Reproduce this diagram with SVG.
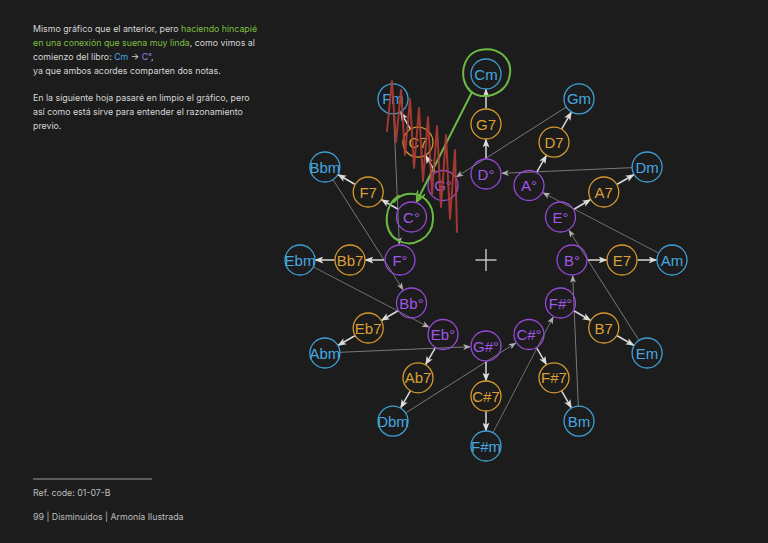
<svg xmlns="http://www.w3.org/2000/svg" width="768" height="543" viewBox="0 0 768 543">
<style>
.txt{font-family:Inter,"Liberation Sans",sans-serif;font-size:8.8px;fill:#d6d6d6}
.gr{fill:#7dbf3f}
.node circle{fill:none;stroke-width:1.3}
.node text{font-family:"Liberation Sans",Arial,sans-serif;font-size:15px;text-anchor:middle;dominant-baseline:central}
.m circle{stroke:#3f9fd6}.m text{fill:#45a8e0}
.s circle{stroke:#d69a2e}.s text{fill:#dba034}
.d circle{stroke:#9549d6}.d text{fill:#a256e4}
.spoke{stroke:#d9d9d9;stroke-width:1.5;marker-end:url(#ah)}
.link{stroke:#7e7e7e;stroke-width:0.85;marker-end:url(#ah2)}
</style>
<defs>
<marker id="ah" viewBox="0 0 10 8" refX="9" refY="4" markerWidth="9" markerHeight="7" markerUnits="userSpaceOnUse" orient="auto"><path d="M0,0 L10,4 L0,8 L2.5,4 Z" fill="#dcdcdc"/></marker>
<marker id="ah2" viewBox="0 0 10 8" refX="9" refY="4" markerWidth="8" markerHeight="6" markerUnits="userSpaceOnUse" orient="auto"><path d="M0,0 L10,4 L0,8 L2.5,4 Z" fill="#b0b0b0"/></marker>
<marker id="ahg" viewBox="0 0 10 8" refX="9" refY="4" markerWidth="11" markerHeight="9" markerUnits="userSpaceOnUse" orient="auto"><path d="M0,0 L10,4 L0,8" fill="none" stroke="#6cb844" stroke-width="1.6"/></marker>
</defs>
<rect width="768" height="543" fill="#1c1c1c"/>

<g id="notes">
<text class="txt" x="33" y="32">Mismo gráfico que el anterior, pero <tspan class="gr">haciendo hincapié</tspan></text>
<text class="txt" x="33" y="46"><tspan class="gr">en una conexión que suena muy linda</tspan>, como vimos al</text>
<text class="txt" x="33" y="60">comienzo del libro: <tspan fill="#4aa8e0">Cm</tspan> → <tspan fill="#9a82e0">C°</tspan>,</text>
<text class="txt" x="33" y="74">ya que ambos acordes comparten dos notas.</text>
<text class="txt" x="33" y="101">En la siguiente hoja pasaré en limpio el gráfico, pero</text>
<text class="txt" x="33" y="115">así como está sirve para entender el razonamiento</text>
<text class="txt" x="33" y="129">previo.</text>
<line x1="33" y1="479" x2="152" y2="479" stroke="#9a9a9a" stroke-width="1"/>
<text class="txt" x="33" y="496" style="fill:#bdbdbd">Ref. code: 01-07-B</text>
<text class="txt" x="33" y="520" style="fill:#bdbdbd">99 | Disminuidos | Armonía Ilustrada</text>
</g>

<g id="center-cross" stroke="#d8d8d8" stroke-width="1.3">
<line x1="475.5" y1="260" x2="496.5" y2="260"/>
<line x1="486" y1="249" x2="486" y2="271"/>
</g>

<g id="connectors">
<line class="link" x1="479.1" y1="87.3" x2="418.9" y2="202.8" transform="rotate(30 486 260)"/>
<line class="link" x1="479.1" y1="87.3" x2="418.9" y2="202.8" transform="rotate(60 486 260)"/>
<line class="link" x1="479.1" y1="87.3" x2="418.9" y2="202.8" transform="rotate(90 486 260)"/>
<line class="link" x1="479.1" y1="87.3" x2="418.9" y2="202.8" transform="rotate(120 486 260)"/>
<line class="link" x1="479.1" y1="87.3" x2="418.9" y2="202.8" transform="rotate(150 486 260)"/>
<line class="link" x1="479.1" y1="87.3" x2="418.9" y2="202.8" transform="rotate(180 486 260)"/>
<line class="link" x1="479.1" y1="87.3" x2="418.9" y2="202.8" transform="rotate(210 486 260)"/>
<line class="link" x1="479.1" y1="87.3" x2="418.9" y2="202.8" transform="rotate(240 486 260)"/>
<line class="link" x1="479.1" y1="87.3" x2="418.9" y2="202.8" transform="rotate(270 486 260)"/>
<line class="link" x1="479.1" y1="87.3" x2="418.9" y2="202.8" transform="rotate(300 486 260)"/>
<line class="link" x1="479.1" y1="87.3" x2="418.9" y2="202.8" transform="rotate(330 486 260)"/>

<line class="spoke" x1="486" y1="158" x2="486" y2="139.5"/>
<line class="spoke" x1="486" y1="108.5" x2="486" y2="89.5"/>
<line class="spoke" x1="486" y1="158" x2="486" y2="139.5" transform="rotate(30 486 260)"/>
<line class="spoke" x1="486" y1="108.5" x2="486" y2="89.5" transform="rotate(30 486 260)"/>
<line class="spoke" x1="486" y1="158" x2="486" y2="139.5" transform="rotate(60 486 260)"/>
<line class="spoke" x1="486" y1="108.5" x2="486" y2="89.5" transform="rotate(60 486 260)"/>
<line class="spoke" x1="486" y1="158" x2="486" y2="139.5" transform="rotate(90 486 260)"/>
<line class="spoke" x1="486" y1="108.5" x2="486" y2="89.5" transform="rotate(90 486 260)"/>
<line class="spoke" x1="486" y1="158" x2="486" y2="139.5" transform="rotate(120 486 260)"/>
<line class="spoke" x1="486" y1="108.5" x2="486" y2="89.5" transform="rotate(120 486 260)"/>
<line class="spoke" x1="486" y1="158" x2="486" y2="139.5" transform="rotate(150 486 260)"/>
<line class="spoke" x1="486" y1="108.5" x2="486" y2="89.5" transform="rotate(150 486 260)"/>
<line class="spoke" x1="486" y1="158" x2="486" y2="139.5" transform="rotate(180 486 260)"/>
<line class="spoke" x1="486" y1="108.5" x2="486" y2="89.5" transform="rotate(180 486 260)"/>
<line class="spoke" x1="486" y1="158" x2="486" y2="139.5" transform="rotate(210 486 260)"/>
<line class="spoke" x1="486" y1="108.5" x2="486" y2="89.5" transform="rotate(210 486 260)"/>
<line class="spoke" x1="486" y1="158" x2="486" y2="139.5" transform="rotate(240 486 260)"/>
<line class="spoke" x1="486" y1="108.5" x2="486" y2="89.5" transform="rotate(240 486 260)"/>
<line class="spoke" x1="486" y1="158" x2="486" y2="139.5" transform="rotate(270 486 260)"/>
<line class="spoke" x1="486" y1="108.5" x2="486" y2="89.5" transform="rotate(270 486 260)"/>
<line class="spoke" x1="486" y1="158" x2="486" y2="139.5" transform="rotate(300 486 260)"/>
<line class="spoke" x1="486" y1="108.5" x2="486" y2="89.5" transform="rotate(300 486 260)"/>
<line class="spoke" x1="486" y1="158" x2="486" y2="139.5" transform="rotate(330 486 260)"/>
<line class="spoke" x1="486" y1="108.5" x2="486" y2="89.5" transform="rotate(330 486 260)"/>
</g>

<g id="minors">
<g id="n-Cm" class="node m"><circle cx="486" cy="74" r="15"/><text x="486" y="74">Cm</text></g>
<g id="n-Gm" class="node m"><circle cx="579" cy="98.9" r="15"/><text x="579" y="98.9">Gm</text></g>
<g id="n-Dm" class="node m"><circle cx="647.1" cy="167" r="15"/><text x="647.1" y="167">Dm</text></g>
<g id="n-Am" class="node m"><circle cx="672" cy="260" r="15"/><text x="672" y="260">Am</text></g>
<g id="n-Em" class="node m"><circle cx="647.1" cy="353" r="15"/><text x="647.1" y="353">Em</text></g>
<g id="n-Bm" class="node m"><circle cx="579" cy="421.1" r="15"/><text x="579" y="421.1">Bm</text></g>
<g id="n-Fsm" class="node m"><circle cx="486" cy="446" r="15"/><text x="486" y="446">F#m</text></g>
<g id="n-Dbm" class="node m"><circle cx="393" cy="421.1" r="15"/><text x="393" y="421.1">Dbm</text></g>
<g id="n-Abm" class="node m"><circle cx="324.9" cy="353" r="15"/><text x="324.9" y="353">Abm</text></g>
<g id="n-Ebm" class="node m"><circle cx="300" cy="260" r="15"/><text x="300" y="260">Ebm</text></g>
<g id="n-Bbm" class="node m"><circle cx="324.9" cy="167" r="15"/><text x="324.9" y="167">Bbm</text></g>
<g id="n-Fm" class="node m"><circle cx="393" cy="98.9" r="15"/><text x="393" y="98.9">Fm</text></g>
</g>

<g id="sevenths">
<g id="n-G7" class="node s"><circle cx="486" cy="124" r="15"/><text x="486" y="124">G7</text></g>
<g id="n-D7" class="node s"><circle cx="554" cy="142.2" r="15"/><text x="554" y="142.2">D7</text></g>
<g id="n-A7" class="node s"><circle cx="603.8" cy="192" r="15"/><text x="603.8" y="192">A7</text></g>
<g id="n-E7" class="node s"><circle cx="622" cy="260" r="15"/><text x="622" y="260">E7</text></g>
<g id="n-B7" class="node s"><circle cx="603.8" cy="328" r="15"/><text x="603.8" y="328">B7</text></g>
<g id="n-Fs7" class="node s"><circle cx="554" cy="377.8" r="15"/><text x="554" y="377.8">F#7</text></g>
<g id="n-Cs7" class="node s"><circle cx="486" cy="396" r="15"/><text x="486" y="396">C#7</text></g>
<g id="n-Ab7" class="node s"><circle cx="418" cy="377.8" r="15"/><text x="418" y="377.8">Ab7</text></g>
<g id="n-Eb7" class="node s"><circle cx="368.2" cy="328" r="15"/><text x="368.2" y="328">Eb7</text></g>
<g id="n-Bb7" class="node s"><circle cx="350" cy="260" r="15"/><text x="350" y="260">Bb7</text></g>
<g id="n-F7" class="node s"><circle cx="368.2" cy="192" r="15"/><text x="368.2" y="192">F7</text></g>
<g id="n-C7" class="node s"><circle cx="418" cy="142.2" r="15"/><text x="418" y="142.2">C7</text></g>
</g>

<g id="diminished">
<g id="n-Ddim" class="node d"><circle cx="486" cy="174" r="15"/><text x="486" y="174">D°</text></g>
<g id="n-Adim" class="node d"><circle cx="529" cy="185.5" r="15"/><text x="529" y="185.5">A°</text></g>
<g id="n-Edim" class="node d"><circle cx="560.5" cy="217" r="15"/><text x="560.5" y="217">E°</text></g>
<g id="n-Bdim" class="node d"><circle cx="572" cy="260" r="15"/><text x="572" y="260">B°</text></g>
<g id="n-Fsdim" class="node d"><circle cx="560.5" cy="303" r="15"/><text x="560.5" y="303">F#°</text></g>
<g id="n-Csdim" class="node d"><circle cx="529" cy="334.5" r="15"/><text x="529" y="334.5">C#°</text></g>
<g id="n-Gsdim" class="node d"><circle cx="486" cy="346" r="15"/><text x="486" y="346">G#°</text></g>
<g id="n-Ebdim" class="node d"><circle cx="443" cy="334.5" r="15"/><text x="443" y="334.5">Eb°</text></g>
<g id="n-Bbdim" class="node d"><circle cx="411.5" cy="303" r="15"/><text x="411.5" y="303">Bb°</text></g>
<g id="n-Fdim" class="node d"><circle cx="400" cy="260" r="15"/><text x="400" y="260">F°</text></g>
<g id="n-Cdim" class="node d"><circle cx="411.5" cy="217" r="15"/><text x="411.5" y="217">C°</text></g>
<g id="n-Gdim" class="node d"><circle cx="443" cy="185.5" r="15"/><text x="443" y="185.5">G°</text></g>
</g>

<g id="annotations" fill="none" stroke-linecap="round" stroke-linejoin="round">
<path d="M470,91 C458,79 462,54 480,50 C498,46 512,58 510,74 C508,90 494,97 481,96 C475,95 471,93 468,88" stroke="#6cb844" stroke-width="2"/>
<path d="M399,196 C384,204 382,230 397,240 C413,249 432,238 433,220 C434,202 421,192 407,194 C401,195 397,198 394,202" stroke="#6cb844" stroke-width="2"/>
<line x1="472" y1="92" x2="417" y2="201" stroke="#6cb844" stroke-width="2" marker-end="url(#ahg)"/>
<polyline points="387,131 392,81 396,142 401,90 405,155 410,99 414,168 419,108 423,181 428,117 432,194 437,126 441,207 446,135 450,219 455,150 457,232" stroke="#b53c35" stroke-width="2" opacity="0.88"/>
</g>
</svg>
